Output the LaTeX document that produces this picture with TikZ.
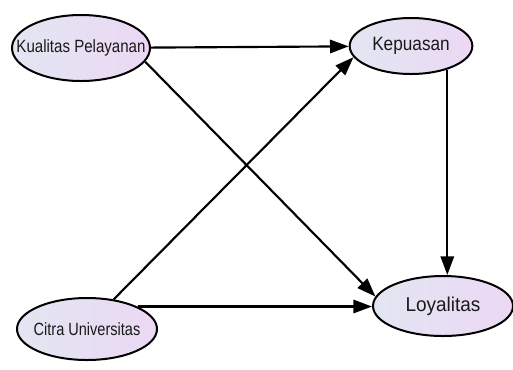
\documentclass[tikz,border=0pt]{standalone}
\usepackage{fontspec}
\setmainfont{Liberation Sans}
\usepackage{tikz}
\usepackage{xcolor}
\usetikzlibrary{shapes.geometric, arrows.meta, positioning, calc}

\definecolor{fillleft}{RGB}{226,230,242}
\definecolor{fillright}{RGB}{236,216,244}

% zero-width label (size in pt, horizontal squeeze) so the ellipse keeps its given size
\newcommand{\varlabel}[3]{\makebox[0pt]{\fontsize{#1}{#1}\selectfont\scalebox{#2}[1]{#3}}}

\tikzset{
    var/.style={ellipse, draw=black, line width=1.5pt, inner sep=0pt,
        left color=fillleft, right color=fillright, text=black!90},
    path/.style={draw=black, line width=1.6pt,
        -{Triangle[length=14pt,width=10pt]}}
}

\begin{document}
\begin{tikzpicture}[x=0.75pt, y=-0.75pt]
\useasboundingbox (0,0) rectangle (513,369);
% latent variables
\node[var, minimum width=103.5pt, minimum height=49.5pt] (kual) at (81,48) {\varlabel{13.3}{0.85}{Kualitas Pelayanan}};
\node[var, minimum width=92pt, minimum height=42pt] (kep) at (411,46) {\varlabel{14.5}{0.89}{Kepuasan}};
\node[var, minimum width=105pt, minimum height=46.5pt] (citra) at (87,329) {\varlabel{13.3}{0.82}{Citra Universitas}};
\node[var, minimum width=105pt, minimum height=45pt] (loy) at (443,306) {\varlabel{15}{0.95}{Loyalitas}};
% paths
\draw[path] (kual) -- (kep);
\draw[path] (kual.-12) -- (loy.172);
\draw[path] (citra.48) -- (kep.191);
\draw[path] (citra.24) -- (citra.24 -| loy.west);
\draw[path] (kep.-33) -- (kep.-33 |- loy.north);
\end{tikzpicture}
\end{document}
